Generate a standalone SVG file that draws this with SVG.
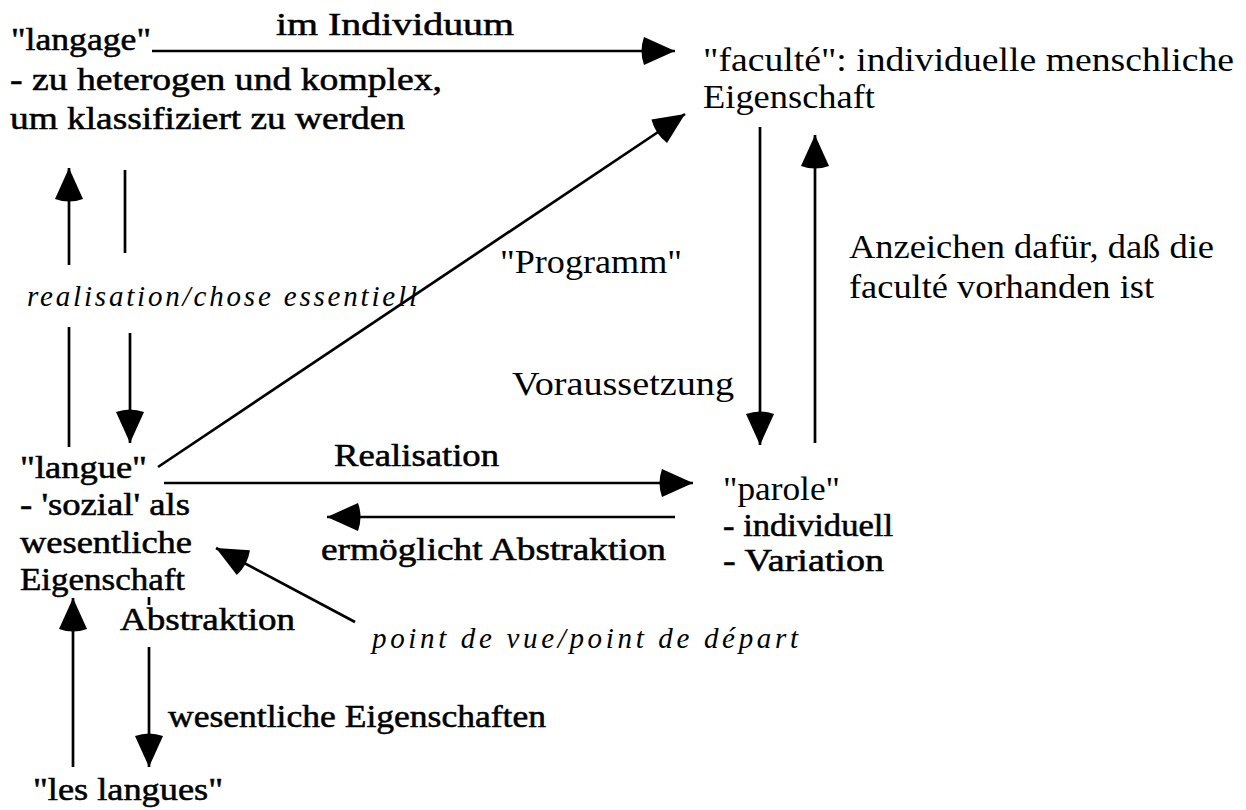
<svg xmlns="http://www.w3.org/2000/svg" width="1246" height="810" viewBox="0 0 1246 810">
  <defs>
    <style>
      text { font-family: "Liberation Serif", "Times New Roman", serif; fill: #000; }
      .b { font-size: 32px; stroke: #000; stroke-width: 0.55px; }
      .r { font-size: 33px; }
      .i { font-size: 29px; font-style: italic; }
      .ln { stroke: #000; stroke-width: 2.7; fill: none; }
      .arr { marker-end: url(#head); }
    </style>
    <marker id="head" markerUnits="userSpaceOnUse" markerWidth="40" markerHeight="32" viewBox="-36 -16 38 32" refX="0" refY="0" orient="auto">
      <path d="M0,0 L-31,-14 Q-36,0 -31,14 Z" fill="#000"/>
    </marker>
  </defs>

  <!-- connectors -->
  <g id="connectors">
    <path class="ln arr" d="M152,51 H675"/>
    <path class="ln arr" d="M158,467 L685,114"/>
    <path class="ln arr" d="M69,265 V168"/>
    <path class="ln" d="M125,170 V253"/>
    <path class="ln" d="M69,327 V447"/>
    <path class="ln arr" d="M130,333 V443"/>
    <path class="ln arr" d="M760,127 V445"/>
    <path class="ln arr" d="M815,443 V135"/>
    <path class="ln arr" d="M164,483 H693"/>
    <path class="ln arr" d="M675,517 H327"/>
    <path class="ln arr" d="M355,622 L216,548"/>
    <path class="ln arr" d="M73,767 V598"/>
    <path class="ln" d="M149,597 V605"/>
    <path class="ln arr" d="M149,647 V767"/>
  </g>

  <!-- edge labels -->
  <g id="labels">
    <text class="b" x="276" y="35" textLength="238" lengthAdjust="spacingAndGlyphs">im Individuum</text>
    <text class="i" x="27" y="306" textLength="390">realisation/chose essentiell</text>
    <text class="r" x="500" y="273" textLength="182" lengthAdjust="spacingAndGlyphs">"Programm"</text>
    <text class="r" x="849" y="258" textLength="365" lengthAdjust="spacingAndGlyphs">Anzeichen dafür, daß die</text>
    <text class="r" x="849" y="298" textLength="305" lengthAdjust="spacingAndGlyphs">faculté vorhanden ist</text>
    <text class="r" x="512" y="395" textLength="222" lengthAdjust="spacingAndGlyphs">Voraussetzung</text>
    <text class="b" x="334" y="466" textLength="165" lengthAdjust="spacingAndGlyphs">Realisation</text>
    <text class="b" x="321" y="560" textLength="345" lengthAdjust="spacingAndGlyphs">ermöglicht Abstraktion</text>
    <text class="b" x="120" y="630" textLength="175" lengthAdjust="spacingAndGlyphs">Abstraktion</text>
    <text class="i" x="372" y="648" textLength="426">point de vue/point de départ</text>
    <text class="b" x="168" y="727" textLength="378" lengthAdjust="spacingAndGlyphs">wesentliche Eigenschaften</text>
  </g>

  <g id="langage">
    <text class="b" x="11" y="50" textLength="140" lengthAdjust="spacingAndGlyphs">"langage"</text>
    <text class="b" x="10" y="90" textLength="432" lengthAdjust="spacingAndGlyphs">- zu heterogen und komplex,</text>
    <text class="b" x="10" y="129" textLength="395" lengthAdjust="spacingAndGlyphs">um klassifiziert zu werden</text>
  </g>

  <g id="faculte">
    <text class="r" x="703" y="71" textLength="531" lengthAdjust="spacingAndGlyphs">"faculté": individuelle menschliche</text>
    <text class="r" x="703" y="108" textLength="172" lengthAdjust="spacingAndGlyphs">Eigenschaft</text>
  </g>

  <g id="langue">
    <text class="b" x="20" y="478" textLength="127" lengthAdjust="spacingAndGlyphs">"langue"</text>
    <text class="b" x="20" y="515" textLength="170" lengthAdjust="spacingAndGlyphs">- 'sozial' als</text>
    <text class="b" x="20" y="553" textLength="172" lengthAdjust="spacingAndGlyphs">wesentliche</text>
    <text class="b" x="20" y="590" textLength="165" lengthAdjust="spacingAndGlyphs">Eigenschaft</text>
  </g>

  <g id="parole">
    <text class="r" x="723" y="500" textLength="117" lengthAdjust="spacingAndGlyphs">"parole"</text>
    <text class="b" x="723" y="536" textLength="170" lengthAdjust="spacingAndGlyphs">- individuell</text>
    <text class="b" x="723" y="571" textLength="161" lengthAdjust="spacingAndGlyphs">- Variation</text>
  </g>

  <g id="les-langues">
    <text class="b" x="33" y="800" textLength="190" lengthAdjust="spacingAndGlyphs">"les langues"</text>
  </g>
</svg>
